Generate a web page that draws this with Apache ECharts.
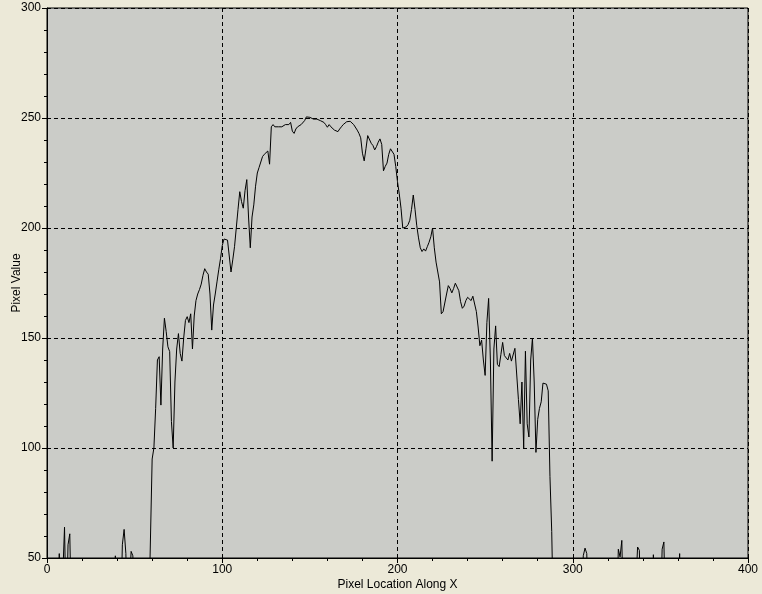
<!DOCTYPE html>
<html>
<head>
<meta charset="utf-8">
<script src="https://cdn.jsdelivr.net/npm/echarts@6/dist/echarts.min.js"></script>
<style>
html,body{margin:0;padding:0;background:#ECE9D8;}
#chart{width:762px;height:594px;}
</style>
</head>
<body>
<div id="chart"></div>
<script>
// Pixel value profile, index = pixel location along X (0..365); 20 = below visible range
var pixelValues = [
20,20,20,20,20,20,20,52,20,20,
64,20,56,61,20,20,20,20,20,20,
20,20,20,20,20,20,20,20,20,20,
20,20,20,20,20,20,20,20,20,51,
20,20,20,56,63,52,20,20,53,51,
20,20,20,20,20,20,20,20,20,20,
95,100,118,140,141.5,119.5,145,159,153,146,
143.8,112,100,130,145,152,143,139.5,150,158,
159.7,157,161,145,160,167,170,172,174.5,178.5,
181.5,180,179,170,153.6,165,170,175.5,181,186,
192,195,195,194.5,194,180,185.5,191.5,200,208.5,
216.5,212,209,217,222,205,191,205,210.5,219,
225,227.5,230,232.5,233.5,234,235,229,246,247,
246,246.5,246,246.5,246,246.5,247,247,247,248,
244,243,245,246,246.8,247,247.5,248.8,250.5,250,
250.3,249.7,249.5,250,249.5,248.6,248.8,249,248,247,
245.8,247,246,245.2,244.5,244,243.8,245,246,247,
247.7,248.3,248.7,248.5,248,247,246.3,244.5,243,241,
234,230.5,236,242,242,238.5,237.5,235.5,237,239,
240.5,238,226,228,229.5,233.5,236,236.5,233.5,228,
221,215.5,209,200,200,200.5,201.5,203.5,208.5,215,
208.5,201,195.5,191,189.3,190.5,189.5,191.5,193.5,196,
200,191,184.5,180,175.5,161,162,162.7,170,173.8,
172.5,170.5,172.5,174.9,174.5,171.5,166.5,163.5,164.5,167,
168.5,169,167,169,169.5,162,155,146.5,149,140,
133,157,168,140,94,145,155.5,138,137,142.5,
148,142,142.5,140,143,139.5,140,145.3,145,122,
111,130,100,144,111,105,140,150,130,98,
113,118,121,129.5,130,129,126,87,62,20,
20,20,20,20,20,20,20,20,20,20,
20,20,20,20,20,20,51,54.5,52,20,
20,20,20,20,20,20,20,20,20,20,
20,20,20,20,20,20,54,50.5,58,20,
20,20,20,20,20,20,20,55,53.5,20,
20,20,20,20,20,20,51.5,51,20,20,
20,54,57.3,20,20,20,20,20,20,20,
20,52,20,20,20,20
];
var xTicks = [0, 100, 200, 300, 400];
var yTicks = [50, 100, 150, 200, 250, 300];
var xLabel = 'Pixel Location Along X';
var yLabel = 'Pixel Value';

var points = pixelValues.map(function (v, i) { return [i, v]; });

var chart = echarts.init(document.getElementById('chart'), null, {renderer: 'canvas'});
var dashed = {show: true, lineStyle: {color: '#000', width: 1, type: [4, 3]}};
chart.setOption({
  animation: false,
  backgroundColor: '#ECE9D8',
  grid: {left: 47, right: 14, top: 8, bottom: 36, show: true, containLabel: false,
         outerBoundsMode: 'none',
         backgroundColor: '#CBCCC8', borderColor: '#000', borderWidth: 1},
  xAxis: {
    type: 'value', min: xTicks[0], max: xTicks[xTicks.length - 1], interval: 100,
    name: xLabel, nameLocation: 'middle', nameGap: 21, nameMoveOverlap: false,
    nameTextStyle: {color: '#000', fontSize: 12, fontFamily: 'Liberation Sans'},
    axisLine: {show: true, onZero: false, lineStyle: {color: '#000', width: 1}},
    axisTick: {show: true, inside: false, length: 5, lineStyle: {color: '#000', width: 1}},
    minorTick: {show: true, splitNumber: 5, length: 3, lineStyle: {color: '#000', width: 1}},
    axisLabel: {color: '#000', fontSize: 12, fontFamily: 'Liberation Sans', margin: 6},
    splitLine: dashed
  },
  yAxis: {
    type: 'value', min: yTicks[0], max: yTicks[yTicks.length - 1], interval: 50,
    name: yLabel, nameLocation: 'middle', nameGap: 24, nameMoveOverlap: false,
    nameTextStyle: {color: '#000', fontSize: 12, fontFamily: 'Liberation Sans'},
    axisLine: {show: true, onZero: false, lineStyle: {color: '#000', width: 1}},
    axisTick: {show: true, inside: false, length: 5, lineStyle: {color: '#000', width: 1}},
    minorTick: {show: true, splitNumber: 5, length: 3, lineStyle: {color: '#000', width: 1}},
    axisLabel: {color: '#000', fontSize: 12, fontFamily: 'Liberation Sans', margin: 6},
    splitLine: dashed
  },
  series: [{
    type: 'line', data: points, showSymbol: false, symbol: 'none', clip: true,
    lineStyle: {color: '#000', width: 1}, silent: true
  }]
});
</script>
</body>
</html>
